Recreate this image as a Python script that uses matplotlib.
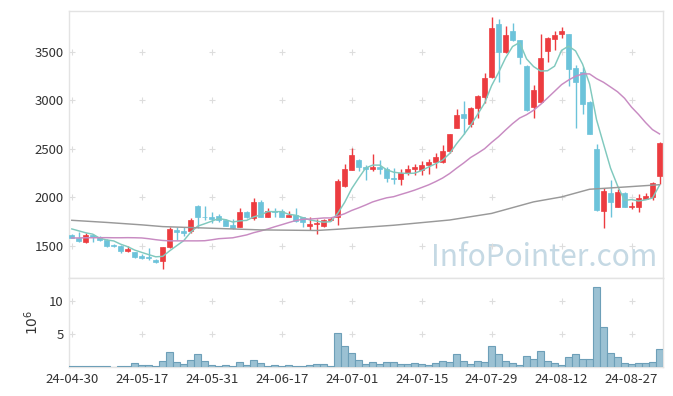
import numpy as np
import matplotlib
matplotlib.use("Agg")
import matplotlib.pyplot as plt

# ---------------- data ----------------
tick_labels = ["24-04-30", "24-05-17", "24-05-31", "24-06-17", "24-07-01",
               "24-07-15", "24-07-29", "24-08-12", "24-08-27"]
tick_index = [0, 10, 20, 30, 40, 50, 60, 70, 80]

opens = [1612, 1580, 1535, 1612, 1590, 1560, 1512, 1500, 1443, 1436,
         1390, 1388, 1352, 1340, 1486, 1657, 1655, 1648, 1908, 1800,
         1796, 1806, 1765, 1714, 1697, 1847, 1790, 1952, 1800, 1860,
         1860, 1800, 1815, 1795, 1707, 1722, 1700, 1760, 1800, 2115,
         2285, 2385, 2315, 2290, 2315, 2295, 2200, 2185, 2250, 2290,
         2280, 2330, 2360, 2360, 2480, 2717, 2855, 2750, 2920, 3032,
         3237, 3782, 3500, 3713, 3619, 3356, 2931, 2982, 3509, 3635,
         3680, 3680, 3330, 3289, 2983, 2500, 1860, 2044, 1901, 2048,
         1895, 1901, 1983, 2003, 2217]
highs = [1622, 1640, 1630, 1620, 1598, 1565, 1520, 1505, 1500, 1440,
         1410, 1477, 1360, 1490, 1697, 1690, 1695, 1782, 1918, 1908,
         1844, 1830, 1775, 1772, 1884, 1855, 1997, 1976, 1887, 1885,
         1875, 1860, 1885, 1800, 1800, 1780, 1780, 1800, 2190, 2340,
         2510, 2390, 2330, 2445, 2385, 2310, 2300, 2295, 2335, 2345,
         2370, 2390, 2460, 2540, 2655, 2914, 2989, 2925, 3057, 3278,
         3856, 3839, 3764, 3792, 3625, 3360, 3152, 3678, 3650, 3710,
         3753, 3685, 3364, 3346, 2990, 2548, 2095, 2173, 2085, 2055,
         1952, 2037, 2045, 2160, 2574]
lows = [1575, 1540, 1530, 1540, 1550, 1488, 1485, 1425, 1438, 1375,
        1360, 1357, 1325, 1262, 1480, 1562, 1605, 1630, 1681, 1765,
        1731, 1745, 1700, 1675, 1690, 1790, 1770, 1795, 1795, 1799,
        1795, 1795, 1745, 1695, 1665, 1625, 1695, 1755, 1715, 2110,
        2280, 2270, 2175, 2270, 2240, 2155, 2140, 2125, 2230, 2225,
        2225, 2235, 2300, 2350, 2460, 2710, 2650, 2720, 2820, 2973,
        3230, 3193, 3482, 3610, 3374, 2890, 2819, 2975, 3397, 3516,
        3642, 3142, 2711, 2853, 2650, 1860, 1687, 1799, 1895, 1895,
        1874, 1850, 1980, 1975, 2139]
closes = [1580, 1545, 1612, 1590, 1557, 1494, 1492, 1443, 1462, 1382,
          1376, 1376, 1332, 1485, 1670, 1640, 1635, 1765, 1800, 1793,
          1772, 1770, 1705, 1682, 1850, 1799, 1952, 1800, 1860, 1845,
          1800, 1815, 1750, 1740, 1725, 1735, 1765, 1775, 2165, 2295,
          2440, 2310, 2295, 2315, 2295, 2200, 2185, 2250, 2295, 2310,
          2337, 2366, 2418, 2480, 2650, 2845, 2815, 2918, 3040, 3234,
          3744, 3495, 3670, 3626, 3442, 2897, 3101, 3438, 3642, 3676,
          3713, 3319, 3193, 2963, 2656, 1867, 2064, 1952, 2054, 1901,
          1908, 1990, 2010, 2149, 2561]
volume_m = [0.15, 0.15, 0.15, 0.15, 0.15, 0.15, 0.03, 0.15, 0.15, 0.55,
            0.3, 0.3, 0.15, 0.9, 2.2, 0.7, 0.4, 1.0, 1.9, 0.85,
            0.3, 0.1, 0.3, 0.1, 0.75, 0.3, 1.05, 0.55, 0.15, 0.3,
            0.15, 0.3, 0.15, 0.15, 0.3, 0.45, 0.45, 0.15, 5.2, 3.1,
            2.05, 1.05, 0.4, 0.7, 0.4, 0.7, 0.7, 0.5, 0.4, 0.55,
            0.4, 0.25, 0.55, 0.85, 0.7, 1.9, 0.85, 0.4, 0.85, 0.7,
            3.1, 1.9, 0.85, 0.55, 0.25, 1.6, 1.15, 2.35, 0.85, 0.55,
            0.25, 1.45, 1.9, 1.15, 1.15, 12.1, 6.1, 2.05, 1.45, 0.55,
            0.4, 0.55, 0.55, 0.7, 2.65]
# moving-average values before enough closes exist
ma5_head = [1673, 1653, 1633, 1619]
ma20_head = [1580, 1580, 1582, 1582, 1583, 1583, 1582, 1582, 1583, 1582,
             1580, 1572, 1562, 1554, 1550, 1550, 1550, 1550, 1550]
# long moving average (at these indices)
ma_long_idx = [0, 5, 10, 13, 20, 27, 35, 38, 46, 54, 60, 66, 70, 74, 79, 84]
ma_long_val = [1762, 1740, 1715, 1697, 1680, 1663, 1657, 1670, 1711, 1765,
               1833, 1952, 2003, 2082, 2105, 2129]

# ---------------- derived ----------------
n = len(closes)
x = np.arange(n)
o = np.array(opens, float); c = np.array(closes, float)
h = np.array(highs, float); l = np.array(lows, float)

def sma(vals, w, head):
    out = np.empty(len(vals))
    out[:w - 1] = head
    for i in range(w - 1, len(vals)):
        out[i] = vals[i - w + 1:i + 1].mean()
    return out

ma5 = sma(c, 5, ma5_head)
ma20 = sma(c, 20, ma20_head)

RED = "#ec3c40"
BLUE = "#6cc3da"
up = c >= o
colors = np.where(up, RED, BLUE)

plt.rcParams['font.family'] = ['Noto Sans CJK KR', 'DejaVu Sans']

fig = plt.figure(figsize=(6.73, 3.96), dpi=100)
W, H = 673, 396
L, R = 69, 663
ax = fig.add_axes([L / W, 1 - 278.3 / H, (R - L) / W, (278.3 - 10.7) / H])
axv = fig.add_axes([L / W, 1 - 367 / H, (R - L) / W, (367 - 278.3) / H], sharex=ax)

# candles
ax.vlines(x, l, h, colors=colors, linewidth=1.0, zorder=2)
body_lo = np.minimum(o, c)
body_h = np.maximum(np.abs(c - o), 8)
ax.bar(x, body_h, bottom=body_lo, width=0.72, color=colors, edgecolor=colors,
       linewidth=0.5, zorder=3)

# moving averages
ax.plot(x, ma5, color="#80c9be", lw=1.05, zorder=4)
ax.plot(x, ma20, color="#c88bc2", lw=1.05, zorder=4)
ax.plot(ma_long_idx, ma_long_val, color="#999999", lw=1.05, zorder=4)

ax.set_xlim(-0.4, 84.5)
ax.set_ylim(1164, 3923)
ax.set_yticks([1500, 2000, 2500, 3000, 3500])

# volume
axv.bar(x, volume_m, width=1.0, color="#9bc1d3", edgecolor="#6d9fb8",
        linewidth=0.8, zorder=3)
axv.set_ylim(0, 13.4)
axv.set_yticks([5, 10])
axv.set_xticks(tick_index)
axv.set_xticklabels(tick_labels)

for a in (ax, axv):
    for s in a.spines.values():
        s.set_color("#e3e3e3")
        s.set_linewidth(1.0)
    a.tick_params(length=0, labelsize=9.5, colors="#333333", pad=4)
plt.setp(ax.get_xticklabels(), visible=False)

# '+' grid marks
for a, ys in ((ax, [1500, 2000, 2500, 3000, 3500]), (axv, [5, 10])):
    gx, gy = np.meshgrid(tick_index, ys)
    a.scatter(gx.ravel(), gy.ravel(), marker="+", s=14, color="#dddddd",
              linewidths=0.8, zorder=1)

axv.text(-0.062, 0.5, r"$10^6$", transform=axv.transAxes, rotation=90,
         ha="center", va="center", fontsize=10, color="#333333")

ax.text(0.99, 0.045, "InfoPointer.com", transform=ax.transAxes, ha="right",
        va="baseline", fontsize=21.5, color="#c5d9e4", zorder=0,
        family=["Noto Sans CJK KR", "DejaVu Sans"])

fig.savefig("out.png", dpi=100)
